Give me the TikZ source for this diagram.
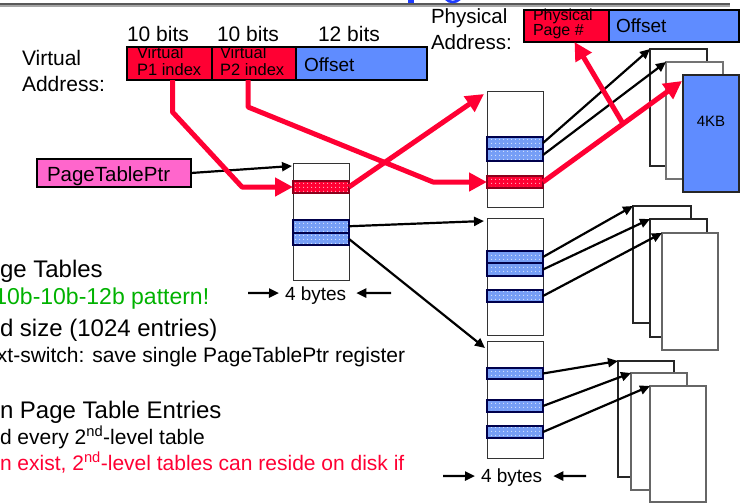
\documentclass[tikz,border=0pt]{standalone}
\usepackage{fontspec}
\setmainfont{Liberation Sans}
\usetikzlibrary{arrows.meta,calc,patterns.meta}
\definecolor{vred}{RGB}{255,0,51}
\definecolor{vblue}{RGB}{95,140,255}
\definecolor{eblue}{RGB}{118,158,246}
\definecolor{vpink}{RGB}{255,102,204}
\definecolor{tgreen}{RGB}{0,178,0}
\definecolor{tblue}{RGB}{30,60,255}
\newcommand\fsz[1]{\fontsize{#1}{#1}\selectfont}
\begin{document}
\begin{tikzpicture}[x=1pt,y=-1pt,
  fld/.style={draw=black, line width=2pt, inner sep=0, outer sep=0, anchor=north west},
  tbl/.style={draw=black!80, line width=1pt, fill=white, inner sep=0, outer sep=0, anchor=north west, minimum width=56pt},
  ent/.style={anchor=north west, inner sep=0, outer sep=0, minimum width=56pt, minimum height=12pt,
     draw=black!70!blue, line width=1.2pt, fill=eblue,
     path picture={\fill[pattern={Dots[distance=4pt,radius=0.6pt]}, pattern color=white]
        (path picture bounding box.south west) rectangle (path picture bounding box.north east);}},
  rent/.style={ent, fill=vred, draw=vred!55!black},
  pg/.style={draw=black!85, line width=1.1pt, fill=white, anchor=north west, inner sep=0, outer sep=0, minimum width=57pt, minimum height=117pt},
  lbl/.style={anchor=base west, inner sep=0, outer sep=0},
  blk/.style={draw=black, line width=2.2pt, -{Triangle[length=10pt,width=9pt]}},
  redarr/.style={draw=vred, line width=5pt, line join=round, -{Triangle[length=18pt,width=18pt]}}
]
\useasboundingbox (0,0) rectangle (744,503);

% top rule and title fragments
\draw[black!65, line width=1.2pt] (0,4) -- (730,4);
\draw[black!35, line width=1.6pt] (0,6.3) -- (730,6.3);
\fill[tblue] (408,0) rectangle (414,3);
\draw[tblue, line width=2.6pt] (446,-1) .. controls (449,3) and (456,3) .. (460,-1);

% left text block
\node[lbl, font=\fsz{24}] (tx1) at (0,277) {ge Tables};
\node[lbl, font=\fsz{23}, text=tgreen] (tx2) at (-5.6,304) {10b-10b-12b pattern!};
\node[lbl, font=\fsz{24}] (tx3) at (0,336) {d size (1024 entries)};
\node[lbl, font=\fsz{21}] (tx4) at (-3,362) {xt-switch: save single PageTablePtr register};
\node[lbl, font=\fsz{24}] (tx5) at (0,418) {n Page Table Entries};
\node[lbl, font=\fsz{21}] (tx6) at (0,444) {d every 2\textsuperscript{nd}-level table};
\node[lbl, font=\fsz{21}, text=vred] (tx7) at (0,470) {n exist, 2\textsuperscript{nd}-level tables can reside on disk if};

% virtual address
\node[lbl, font=\fsz{21}] (va1) at (22,66) {Virtual};
\node[lbl, font=\fsz{21}] (va2) at (22,91) {Address:};
\node[lbl, font=\fsz{21}] (b1) at (127,42) {10 bits};
\node[lbl, font=\fsz{21}] (b2) at (217,42) {10 bits};
\node[lbl, font=\fsz{21}] (b3) at (318,42) {12 bits};
\node[fld, fill=vred, minimum width=85pt, minimum height=33pt] (p1) at (127,47) {};
\node[fld, fill=vred, minimum width=84pt, minimum height=33pt] (p2) at (212,47) {};
\node[fld, fill=vblue, minimum width=131pt, minimum height=33pt] (off) at (296,47) {};
\node[lbl, font=\fsz{16.5}] (p1a) at (137,59) {Virtual};
\node[lbl, font=\fsz{16.5}] (p1b) at (137,75) {P1 index};
\node[lbl, font=\fsz{16.5}] (p2a) at (220,59) {Virtual};
\node[lbl, font=\fsz{16.5}] (p2b) at (220,75) {P2 index};
\node[lbl, font=\fsz{19}] (offt) at (304,71) {Offset};

% physical address
\node[lbl, font=\fsz{20.5}] (pa1) at (431,24) {Physical};
\node[lbl, font=\fsz{20.5}] (pa2) at (431,49) {Address:};
\node[fld, fill=vred, minimum width=85pt, minimum height=32pt] (ppn) at (524,10) {};
\node[fld, fill=vblue, minimum width=130pt, minimum height=32pt] (poff) at (609,10) {};
\node[lbl, font=\fsz{16}] (ppa) at (533,20.5) {Physical};
\node[lbl, font=\fsz{16}] (ppb) at (533,35.5) {Page \#};
\node[lbl, font=\fsz{19}] (pofft) at (616,33) {Offset};

% page table pointer
\node[fld, fill=vpink, minimum width=154pt, minimum height=28pt] (ptr) at (37,159) {};
\node[lbl, font=\fsz{20.5}] (ptrt) at (47,181) {PageTablePtr};

% first-level table
\node[tbl, minimum height=117pt] (T1) at (293,163) {};
\node[rent] (T1r) at (293,181) {};
\node[ent, minimum height=12.5pt] (T1b1) at (293,220) {};
\node[ent] (T1b2) at (293,233) {};
\node[lbl, font=\fsz{19}] (by1) at (285,300) {4 bytes};

% second-level tables
\node[tbl, minimum height=116pt] (TA) at (487,91) {};
\node[ent] (TAb1) at (487,137) {};
\node[ent] (TAb2) at (487,149) {};
\node[rent] (TAr) at (487,176) {};
\node[tbl, minimum height=117pt] (TB) at (487,218) {};
\node[ent] (TBb1) at (487,251) {};
\node[ent, minimum height=13pt] (TBb2) at (487,263) {};
\node[ent] (TBb3) at (487,290) {};
\node[tbl, minimum height=117pt] (TC) at (487,341) {};
\node[ent, minimum height=11pt] (TCb1) at (487,368) {};
\node[ent] (TCb2) at (487,400) {};
\node[ent] (TCb3) at (487,426) {};
\node[lbl, font=\fsz{19}] (by2) at (481,482) {4 bytes};

% pages
\node[pg] (a1) at (650,49) {};
\node[pg, draw=black!55] (a2) at (666,62) {};
\node[pg, fill=vblue, minimum width=56pt] (a3) at (683,75) {};
\node[font=\fsz{15}, inner sep=0] (kb) at (711,121) {4KB};
\node[pg, minimum width=58pt] (m1) at (633,206) {};
\node[pg, minimum height=118pt] (m2) at (650,219) {};
\node[pg, draw=black!60, minimum width=56pt] (m3) at (662,233) {};
\node[pg, minimum width=56pt, minimum height=116pt] (c1) at (618,361) {};
\node[pg, draw=black!60, minimum width=56pt] (c2) at (631,373) {};
\node[pg, draw=black!60, minimum width=56pt, minimum height=116pt] (c3) at (650,386) {};

% black connectors
\draw[blk] (ptr.east) -- ($(T1.north west)+(-1,3)$);
\draw[blk] (T1b1.east) -- ($(TB.north west)+(-3,3)$);
\draw[blk] (T1b2.east) -- ($(TC.north west)+(-2,7)$);
\draw[blk] (TAb1.east) -- (a1.north west);
\draw[blk] (TAb2.east) -- (a2.north west);
\draw[blk] (TBb1.east) -- (m1.north west);
\draw[blk] (TBb2.east) -- (m2.north west);
\draw[blk] (TBb3.east) -- (m3.north west);
\draw[blk] (TCb1.east) -- (c1.north west);
\draw[blk] (TCb2.east) -- (c2.north west);
\draw[blk] (TCb3.east) -- (c3.north west);

% byte-width arrows
\coordinate (w1l) at (248,293);
\coordinate (w1r) at (391,293);
\coordinate (w2l) at (443,476);
\coordinate (w2r) at (586,476);
\draw[blk] (w1l) -- ([xshift=-6pt,yshift=2pt]by1.west);
\draw[blk] (w1r) -- ([xshift=10pt,yshift=2pt]by1.east);
\draw[blk] (w2l) -- ([xshift=-6pt,yshift=1pt]by2.west);
\draw[blk] (w2r) -- ([xshift=11pt,yshift=1pt]by2.east);

% red translation path
\coordinate (k1) at (172.5,112);
\coordinate (k2) at (242,187);
\coordinate (k3) at (248,107);
\coordinate (k4) at (433,182);
\coordinate (a3t) at ($(a3.north west)+(-1,6)$);
\coordinate (jn) at ($(TAr.east)!0.576!(a3t)$);
\draw[redarr] ($(p1.south)+(3,0)$) -- (k1) -- (k2) -- (T1r.west);
\draw[redarr] ($(p2.south)+(-6,0)$) -- (k3) -- (k4) -- (TAr.west);
\draw[redarr] (T1r.east) -- ($(TA.north west)+(-3,3)$);
\draw[redarr] (TAr.east) -- (a3t);
\draw[redarr] (jn) -- ($(ppn.south)+(8,0)$);
\end{tikzpicture}
\end{document}
